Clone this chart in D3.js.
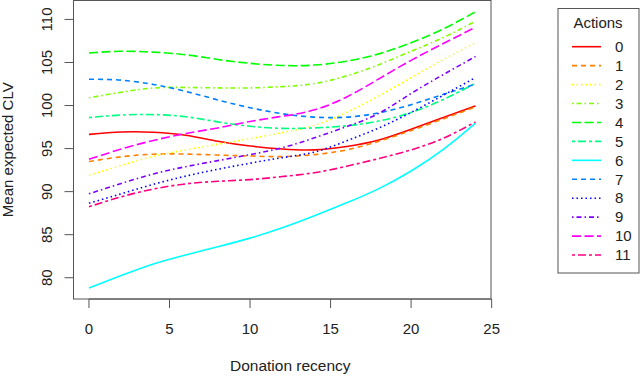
<!DOCTYPE html>
<html>
<head>
<meta charset="utf-8">
<script src="https://cdn.jsdelivr.net/npm/d3@7"></script>
<style>
  body { margin: 0; background: #fff; }
  text { font-family: "Liberation Sans", Arial, sans-serif; fill: #222; }
</style>
</head>
<body>
<script>
// recency values where each curve was read
const recency = [0, 2, 4, 6, 8, 10, 12, 14, 16, 18, 20, 22, 24];
const actions = ["0", "1", "2", "3", "4", "5", "6", "7", "8", "9", "10", "11"];

const clv0  = [96.65, 96.93, 96.9, 96.55, 95.85, 95.3, 94.95, 94.85, 95.25, 96.0, 97.25, 98.6, 99.95];
const clv1  = [93.5, 94.05, 94.35, 94.36, 94.25, 94.14, 94.07, 94.3, 94.85, 95.85, 97.1, 98.45, 99.85];
const clv2  = [91.9, 93.05, 94.1, 94.85, 95.5, 96.15, 96.85, 97.7, 99.2, 101.1, 103.25, 105.35, 107.3];
const clv3  = [100.9, 101.55, 102.03, 102.1, 102.05, 102.05, 102.2, 102.55, 103.45, 104.75, 106.3, 107.9, 109.8];
const clv4  = [106.1, 106.3, 106.2, 105.9, 105.35, 104.9, 104.65, 104.7, 105.15, 106.0, 107.3, 108.9, 110.9];
const clv5  = [98.6, 98.9, 98.95, 98.7, 98.1, 97.6, 97.35, 97.4, 97.65, 98.2, 99.2, 100.7, 102.6];
const clv6  = [78.8, 80.25, 81.6, 82.65, 83.6, 84.6, 85.8, 87.2, 88.7, 90.35, 92.4, 94.9, 97.95];
const clv7  = [103.05, 102.95, 102.45, 101.65, 100.65, 99.75, 99.05, 98.65, 98.65, 99.15, 100.1, 101.3, 102.5];
const clv8  = [88.65, 89.75, 90.85, 91.8, 92.6, 93.3, 93.95, 94.6, 95.9, 97.4, 99.2, 101.2, 103.25];
const clv9  = [89.75, 90.95, 92.05, 92.9, 93.6, 94.3, 95.1, 96.25, 97.55, 99.1, 101.4, 103.6, 105.7];
const clv10 = [93.75, 94.95, 95.95, 96.75, 97.4, 98.15, 98.75, 99.5, 101.0, 103.1, 105.25, 107.2, 109.1];
const clv11 = [88.25, 89.4, 90.3, 90.9, 91.2, 91.4, 91.75, 92.2, 92.95, 93.85, 94.85, 96.2, 98.1];

const xTicks = [0, 5, 10, 15, 20, 25];
const yTicks = [80, 85, 90, 95, 100, 105, 110];

const series = [clv0, clv1, clv2, clv3, clv4, clv5, clv6, clv7, clv8, clv9, clv10, clv11];

const width = 640;
const height = 377;

// R rainbow(12) and lty 1..6 recycled
const colors = ["#FF0000", "#FF8000", "#FFFF00", "#80FF00", "#00FF00", "#00FF80",
                "#00FFFF", "#0080FF", "#0000FF", "#8000FF", "#FF00FF", "#FF0080"];
const dashes = [null, "5,4", "1.5,3", "1.5,3,5,3", "9,3.5", "3,3,8,3"];

const box = {left: 73.5, right: 491, top: 0.5, bottom: 299};

const svg = d3.select("body")
    .append("svg")
    .attr("width", width)
    .attr("height", height);

const x = d3.scaleLinear()
    .domain([-0.96, 24.96])
    .range([box.left, box.right]);

const y = d3.scaleLinear()
    .domain([77.53, 112.2])
    .range([box.bottom, box.top]);

// curves
const line = d3.line()
    .x((d, i) => x(recency[i]))
    .y(d => y(d))
    .curve(d3.curveNatural);

svg.append("g")
    .selectAll("path")
    .data(series)
    .join("path")
    .attr("d", d => line(d))
    .attr("fill", "none")
    .attr("stroke", (d, i) => colors[i])
    .attr("stroke-width", 1.6)
    .attr("stroke-dasharray", (d, i) => dashes[i % 6]);

// box
svg.append("rect")
    .attr("x", box.left)
    .attr("y", box.top)
    .attr("width", box.right - box.left)
    .attr("height", box.bottom - box.top)
    .attr("fill", "none")
    .attr("stroke", "#555");

// x axis
const xAxis = svg.append("g");
xAxis.append("line")
    .attr("x1", x(0)).attr("x2", x(25))
    .attr("y1", box.bottom).attr("y2", box.bottom)
    .attr("stroke", "#555");
xAxis.selectAll("line.tick")
    .data(xTicks)
    .join("line")
    .attr("class", "tick")
    .attr("x1", d => x(d)).attr("x2", d => x(d))
    .attr("y1", box.bottom).attr("y2", box.bottom + 9)
    .attr("stroke", "#555");
xAxis.selectAll("text")
    .data(xTicks)
    .join("text")
    .attr("x", d => x(d))
    .attr("y", 329)
    .attr("dy", "0.35em")
    .attr("text-anchor", "middle")
    .attr("font-size", 15)
    .text(d => d);

// y axis
const yAxis = svg.append("g");
yAxis.append("line")
    .attr("x1", box.left).attr("x2", box.left)
    .attr("y1", y(80)).attr("y2", y(110))
    .attr("stroke", "#555");
yAxis.selectAll("line.tick")
    .data(yTicks)
    .join("line")
    .attr("class", "tick")
    .attr("x1", box.left - 9).attr("x2", box.left)
    .attr("y1", d => y(d)).attr("y2", d => y(d))
    .attr("stroke", "#555");
yAxis.selectAll("text")
    .data(yTicks)
    .join("text")
    .attr("transform", d => `translate(47,${y(d)}) rotate(-90)`)
    .attr("dy", "0.35em")
    .attr("text-anchor", "middle")
    .attr("font-size", 15)
    .text(d => d);

// axis titles
svg.append("text")
    .attr("x", x(12.5))
    .attr("y", 366)
    .attr("dy", "0.35em")
    .attr("text-anchor", "middle")
    .attr("font-size", 15.5)
    .text("Donation recency");

svg.append("text")
    .attr("transform", `translate(8,${(box.top + box.bottom) / 2}) rotate(-90)`)
    .attr("dy", "0.35em")
    .attr("text-anchor", "middle")
    .attr("font-size", 15)
    .text("Mean expected CLV");

// legend
const legend = svg.append("g");
legend.append("rect")
    .attr("x", 558)
    .attr("y", 8.5)
    .attr("width", 81)
    .attr("height", 264.5)
    .attr("fill", "#fff")
    .attr("stroke", "#555");
legend.append("text")
    .attr("x", 598)
    .attr("y", 22.7)
    .attr("dy", "0.35em")
    .attr("text-anchor", "middle")
    .attr("font-size", 15)
    .text("Actions");

const rowY = i => 46.7 + i * 18.94;
legend.selectAll("line.key")
    .data(actions)
    .join("line")
    .attr("class", "key")
    .attr("x1", 572).attr("x2", 601)
    .attr("y1", (d, i) => rowY(i)).attr("y2", (d, i) => rowY(i))
    .attr("stroke", (d, i) => colors[i])
    .attr("stroke-width", 1.6)
    .attr("stroke-dasharray", (d, i) => dashes[i % 6]);
legend.selectAll("text.key")
    .data(actions)
    .join("text")
    .attr("class", "key")
    .attr("x", 615)
    .attr("y", (d, i) => rowY(i))
    .attr("dy", "0.35em")
    .attr("font-size", 15)
    .text(d => d);
</script>
</body>
</html>
